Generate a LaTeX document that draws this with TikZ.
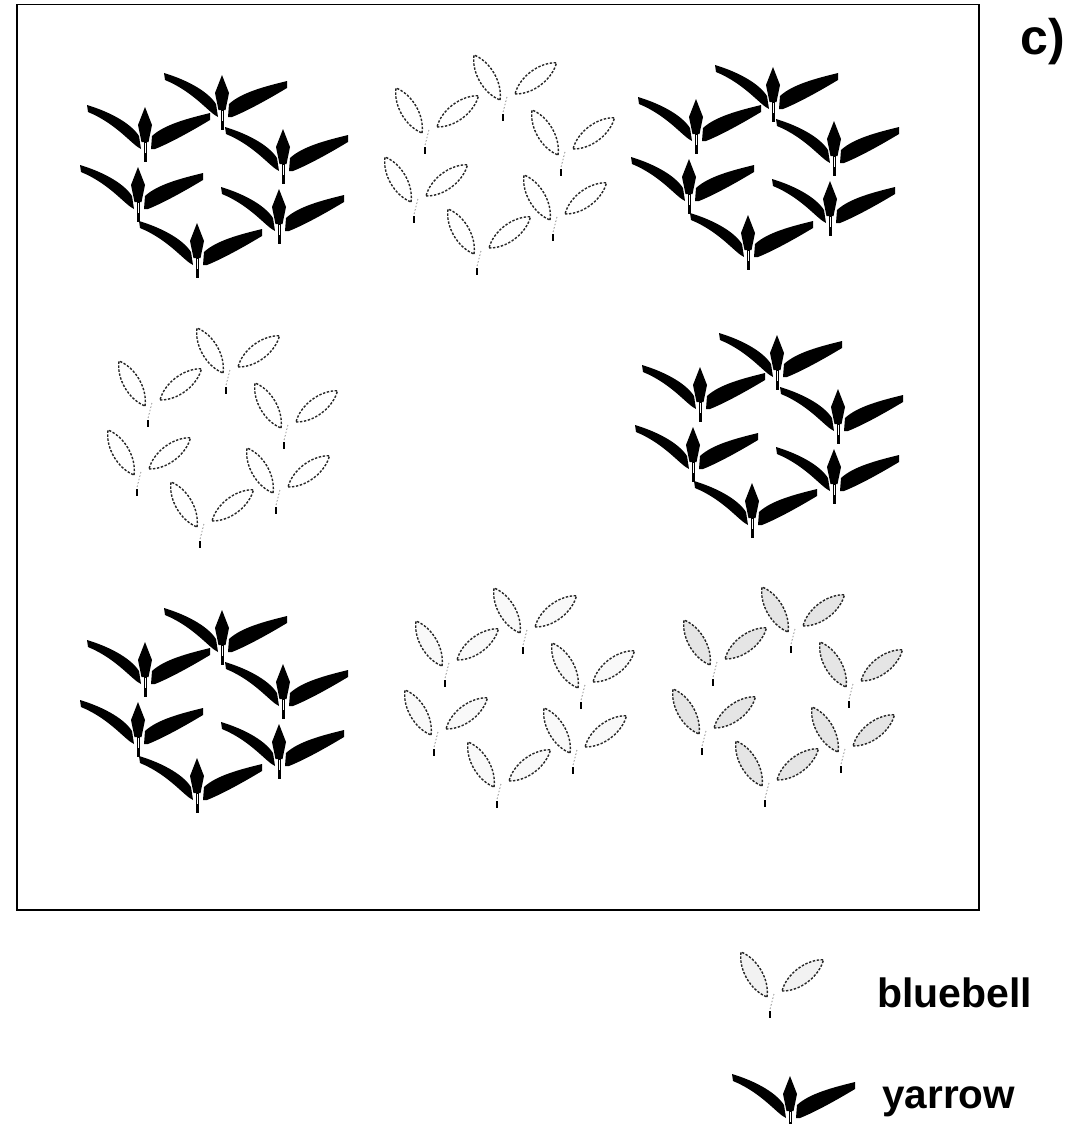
\documentclass[tikz,border=0pt]{standalone}
\usepackage{fontspec}
\setmainfont{Liberation Sans}
\begin{document}
\begin{tikzpicture}[x=1pt,y=-1pt,
  leafline/.style={line width=1.4pt, draw=black!85, dash pattern=on 2.4pt off 1.6pt},
  label/.style={inner sep=0pt, anchor=base west},
  yarrow/.pic={
    % left wing, blunt tip
    \fill[black] (-58,-40) .. controls (-38,-34) and (-15,-23) .. (-6,-9)
      -- (-4,4) .. controls (-13,0) and (-28,-21) .. (-57,-33) -- cycle;
    % right wing, blunt tip
    \fill[black] (65,-32) .. controls (45,-27) and (20,-21) .. (7,-9)
      -- (6,4) -- (10,4) .. controls (25,-2) and (45,-13) .. (65,-25) -- cycle;
    % central spike
    \fill[black] (0,-38) -- (7,-20) -- (3.5,-3) -- (-3.5,-3) -- (-7,-20) -- cycle;
    % stem
    \draw[line width=3pt] (0.5,-4) -- (0.5,17);
    \draw[white, line width=1pt] (0.5,-2) -- (0.5,8);
  },
  bluebell/.pic={
    % left leaf
    \begin{scope}[rotate=120]
      \path[leafline, pic actions] (0,0) .. controls (14,11) and (38,11) .. (52,0)
        .. controls (38,-11) and (14,-11) .. cycle;
    \end{scope}
    % right leaf
    \begin{scope}[shift={(15,-6)}, rotate=37]
      \path[leafline, pic actions] (0,0) .. controls (14,11) and (38,11) .. (52,0)
        .. controls (38,-11) and (14,-11) .. cycle;
    \end{scope}
    % stem
    \draw[black!60, line width=0.6pt, dash pattern=on 1.5pt off 2pt] (7,-3) -- (3,12);
    \draw[line width=1.8pt] (3,14) -- (3,21);
  }]
\useasboundingbox (0,0) rectangle (1074,1124);
\clip (0,0) rectangle (1074,1124);

% outer frame
\draw[line width=1.3pt] (17,4.5) rectangle (979,910);

% six yarrow plants per patch, placed from the top plant
\newcommand\yarrowpatch[2]{%
  \foreach \dx/\dy in {0/0,-77/32,61/54,-84/92,57/114,-25/148}
    \pic at ({#1+\dx},{#2+\dy}) {yarrow};}
% six bluebell plants per patch
\newcommand\bluebellpatch[3]{%
  \foreach \dx/\dy in {0/0,-78/33,58/55,-89/102,50/120,-26/154}
    \pic[#3] at ({#1+\dx},{#2+\dy}) {bluebell};}

\yarrowpatch{222}{113}
\yarrowpatch{773}{105}
\yarrowpatch{777}{373}
\yarrowpatch{222}{648}

\bluebellpatch{500}{100}{fill=none}
\bluebellpatch{223}{373}{fill=none}
\bluebellpatch{520}{633}{fill=gray!5}
\bluebellpatch{788}{632}{fill=gray!20}

% panel label
\node[label, font=\bfseries\fontsize{50}{50}\selectfont] (panel) at (1020,55) {c)};

% key
\pic[fill=gray!10] at (767,997) {bluebell};
\node[label, font=\bfseries\fontsize{41}{41}\selectfont] (kb) at (877,1007) {bluebell};
\pic at (790,1114) {yarrow};
\node[label, font=\bfseries\fontsize{40.5}{40.5}\selectfont] (ky) at (882,1108) {yarrow};
\end{tikzpicture}
\end{document}
